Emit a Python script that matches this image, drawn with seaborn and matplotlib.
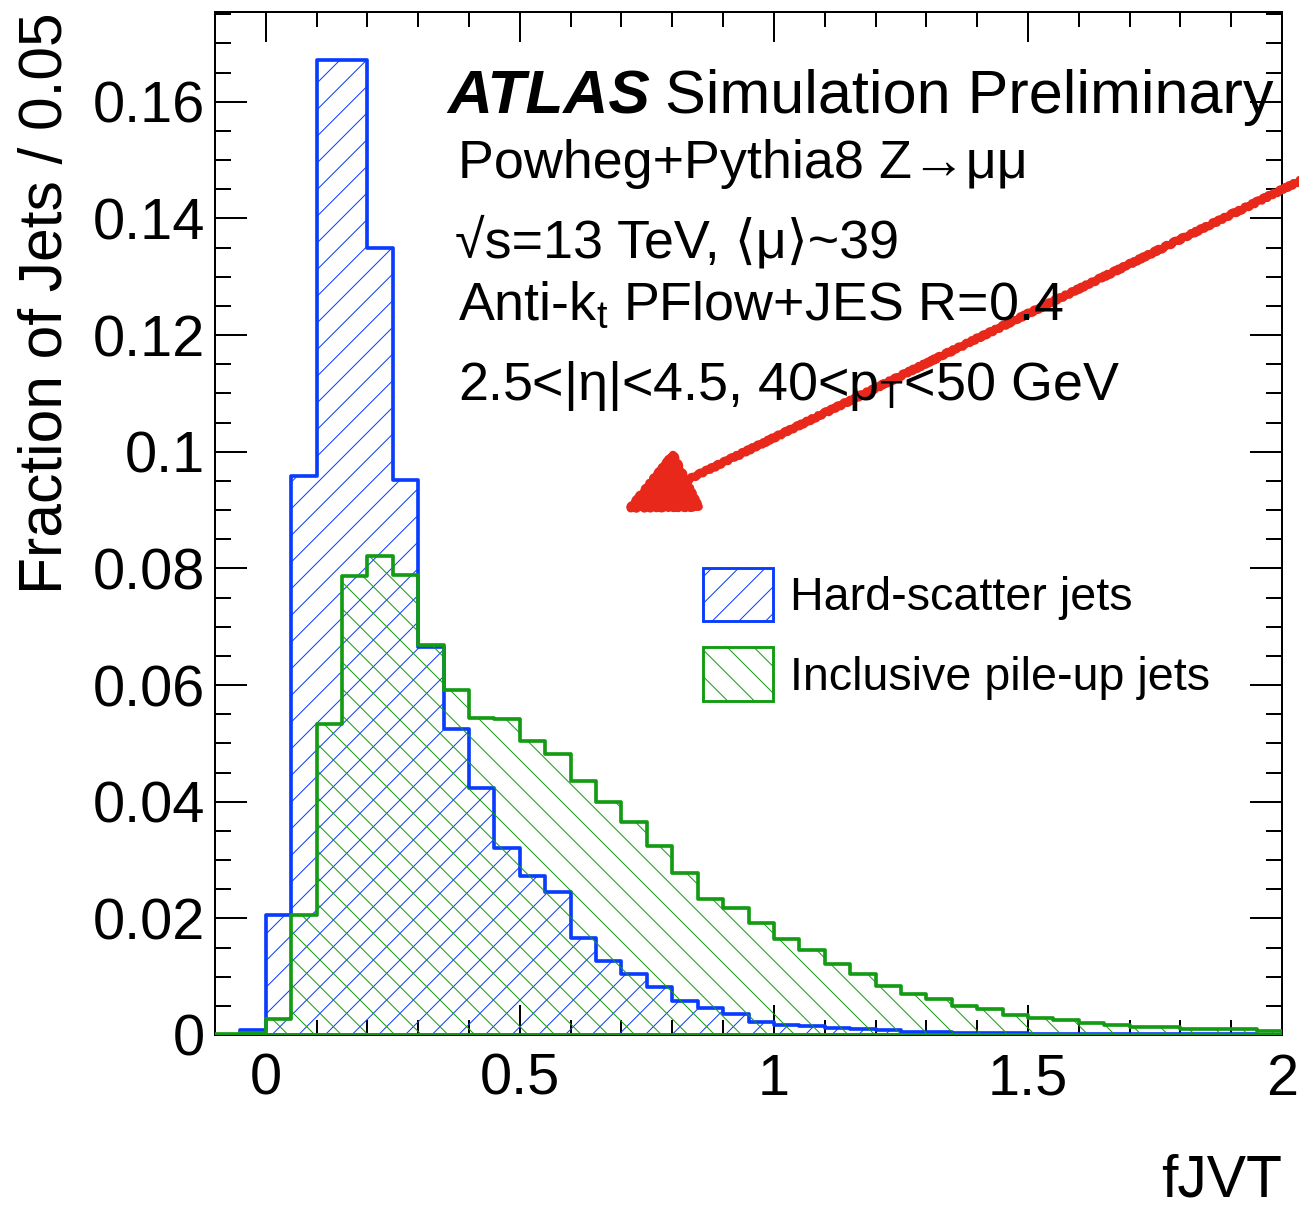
import numpy as np
import pandas as pd
import matplotlib
matplotlib.use("Agg")
import matplotlib.pyplot as plt
import seaborn as sns
from matplotlib.patches import Patch
from matplotlib.ticker import MultipleLocator, FuncFormatter

# fJVT histograms, normalised fractions per 0.05-wide bin from -0.1 to 2.0
bin_edges = [round(-0.1 + 0.05 * i, 3) for i in range(43)]

hard_scatter = [
    0.0, 0.0008, 0.0205, 0.0959, 0.1672, 0.1672, 0.1349, 0.0952, 0.0666, 0.0525,
    0.0423, 0.0321, 0.0273, 0.0245, 0.0167, 0.0127, 0.0105, 0.0082, 0.0059, 0.0046,
    0.0036, 0.0023, 0.0017, 0.0015, 0.0012, 0.0010, 0.0009, 0.0006, 0.0005, 0.0004,
    0.0003, 0.0003, 0.0002, 0.0002, 0.0002, 0.0001, 0.0001, 0.0001, 0.0001, 0.0001,
    0.0001, 0.0,
]
pileup = [
    0.0001, 0.0003, 0.0027, 0.0205, 0.0534, 0.0787, 0.0821, 0.0788, 0.0668, 0.0592,
    0.0544, 0.0541, 0.0504, 0.0481, 0.0436, 0.0400, 0.0365, 0.0324, 0.0278, 0.0233,
    0.0218, 0.0192, 0.0165, 0.0146, 0.0122, 0.0105, 0.0084, 0.0071, 0.0061, 0.0050,
    0.0045, 0.0034, 0.0030, 0.0025, 0.0021, 0.0018, 0.0014, 0.0014, 0.0011, 0.0010,
    0.0010, 0.0007,
]
series_labels = ["Hard-scatter jets", "Inclusive pile-up jets"]

BLUE = "#0a3cff"
GREEN = "#139b13"

DPI = 80
W, H = 1299, 1208

sns.set_theme(style="ticks")
plt.rcParams["font.family"] = ["Liberation Sans", "DejaVu Sans"]
plt.rcParams.update({
    "mathtext.fontset": "custom",
    "mathtext.rm": "Liberation Sans",
    "mathtext.it": "Liberation Sans:italic",
    "mathtext.bf": "Liberation Sans:bold",
    "hatch.linewidth": 0.9,
    "axes.linewidth": 1.8,
    "axes.edgecolor": "black",
    "axes.labelcolor": "black",
    "text.color": "black",
    "xtick.color": "black",
    "ytick.color": "black",
})

edges = np.array(bin_edges)
centers = (edges[:-1] + edges[1:]) / 2
df = pd.DataFrame({"fjvt": centers, "hs": hard_scatter, "pu": pileup})

fig = plt.figure(figsize=(W / DPI, H / DPI), dpi=DPI)
ax = fig.add_axes([215 / W, 1 - 1035 / H, (1282 - 215) / W, (1035 - 12) / H])

sns.histplot(data=df, x="fjvt", weights="hs", bins=bin_edges, element="step",
             fill=True, color=BLUE, facecolor="none", edgecolor=BLUE, hatch="/",
             linewidth=3.3, ax=ax, zorder=2)
sns.histplot(data=df, x="fjvt", weights="pu", bins=bin_edges, element="step",
             fill=True, color=GREEN, facecolor="none", edgecolor=GREEN, hatch="\\",
             linewidth=3.3, ax=ax, zorder=3)

ax.set_xlim(-0.1, 2.0)
ax.set_ylim(0, 0.1754)

ax.xaxis.set_major_locator(MultipleLocator(0.5))
ax.xaxis.set_minor_locator(MultipleLocator(0.1))
ax.yaxis.set_major_locator(MultipleLocator(0.02))
ax.yaxis.set_minor_locator(MultipleLocator(0.005))
fmt = FuncFormatter(lambda v, p: f"{v:g}")
ax.xaxis.set_major_formatter(fmt)
ax.yaxis.set_major_formatter(fmt)

ax.tick_params(which="both", direction="in", top=True, right=True, width=1.8,
               colors="black")
ax.tick_params(axis="y", which="major", length=29, pad=9, labelsize=52)
ax.tick_params(axis="y", which="minor", length=14)
ax.tick_params(axis="x", which="major", length=27, pad=16, labelsize=52)
ax.tick_params(axis="x", which="minor", length=13.5)
for s in ax.spines.values():
    s.set_visible(True)
    s.set_linewidth(1.8)

ax.set_xlabel("fJVT", fontsize=53, loc="right", labelpad=42, color="black")
ax.set_ylabel("Fraction of Jets / 0.05", fontsize=54.5, loc="top", labelpad=16,
              color="black")

# Experiment label and selection text
fig.text(447 / W, 1 - 113 / H, "ATLAS", fontsize=56, fontweight="bold",
         fontstyle="italic", va="baseline", ha="left", color="black")
fig.text(665 / W, 1 - 113 / H, "Simulation Preliminary", fontsize=55,
         va="baseline", ha="left", color="black")
info_lines = [
    (458, 178, "Powheg+Pythia8 Z\u2192\u03bc\u03bc"),
    (455, 258, "\u221as=13 TeV, \u27e8\u03bc\u27e9~39"),
    (458, 320, r"Anti-k$_{\mathrm{t}}$ PFlow+JES R=0.4"),
    (458, 400, r"2.5<|η|<4.5, 40<p$_{\mathrm{T}}$<50 GeV"),
]
for x, y, t in info_lines:
    fig.text(x / W, 1 - y / H, t, fontsize=48.5, va="baseline", ha="left",
             color="black")

handles = [
    Patch(facecolor="none", edgecolor=BLUE, hatch="/", linewidth=2.6),
    Patch(facecolor="none", edgecolor=GREEN, hatch="\\", linewidth=2.6),
]
leg = fig.legend(handles, series_labels, loc="upper left",
                 bbox_to_anchor=(703 / W, 1 - 568 / H), frameon=False,
                 fontsize=42, handlelength=1.5, handleheight=1.38,
                 handletextpad=0.36, labelspacing=0.56, borderpad=0,
                 borderaxespad=0)
for t in leg.get_texts():
    t.set_color("black")

# Red pointer arrow
arr = ax.annotate("", xy=(622, H - 512), xycoords="figure pixels",
                  xytext=(1310, H - 176), textcoords="figure pixels",
                  arrowprops=dict(arrowstyle="-|>,head_length=5.5,head_width=2.6",
                                  mutation_scale=10, color="#e8281a", lw=7.5,
                                  shrinkA=0, shrinkB=0),
                  annotation_clip=False, zorder=10)
arr.arrow_patch.set_sketch_params(1.0, 8, 3)

fig.savefig("out.png", dpi=DPI)
